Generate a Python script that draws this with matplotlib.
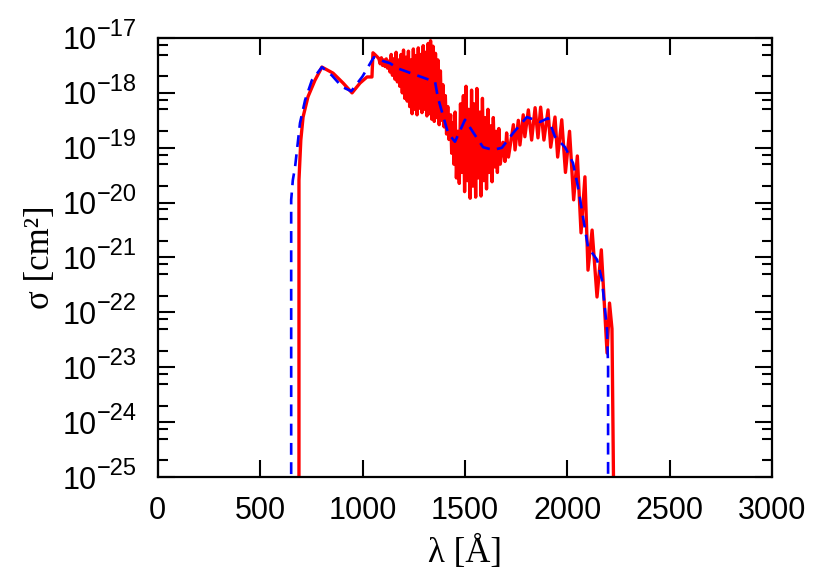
import matplotlib
matplotlib.use('Agg')
import matplotlib.pyplot as plt
import matplotlib.ticker as mticker
import matplotlib.transforms as mtransforms
import numpy as np

# blue dashed curve: wavelength [A] and log10(sigma)
blue_lam = [652, 652, 660, 671, 695, 720, 753, 802, 850, 900, 945, 1000, 1055,
            1100, 1134, 1170, 1250, 1354, 1368, 1417, 1451, 1500, 1545, 1588,
            1637, 1680, 1735, 1802, 1866, 1905, 1939, 1988, 2027, 2051, 2100,
            2144, 2168, 2193, 2198, 2198]
blue_log = [-26.0, -19.95, -19.59, -19.35, -18.55, -18.13, -17.77, -17.53, -17.68,
            -17.89, -17.97, -17.70, -17.35, -17.42, -17.46, -17.55, -17.66, -17.80,
            -18.09, -18.73, -18.89, -18.49, -18.75, -18.99, -19.04, -19.00, -18.73,
            -18.44, -18.53, -18.46, -18.80, -18.99, -19.28, -19.71, -20.81, -21.04,
            -21.41, -22.32, -22.99, -26.0]

# red solid curve
red_lam = [690, 690, 699, 710, 734, 768, 802, 856, 905, 949, 988, 1022, 1046, 1051,
           1060, 1068, 1076, 1080, 1086, 1092, 1098, 1104, 1110, 1116, 1122,
           1128, 1134, 1140, 1146, 1152, 1158, 1164, 1170, 1176, 1182, 1188, 1194,
           1200, 1206, 1212, 1218, 1224, 1230, 1236, 1242, 1248, 1254, 1260, 1266,
           1272, 1278, 1284, 1290, 1296, 1302, 1308, 1314, 1320, 1326, 1332, 1338,
           1344, 1350, 1356, 1362, 1368, 1374, 1380, 1386, 1392, 1398, 1404, 1410,
           1416, 1422,
           1430, 1435, 1440, 1446, 1452, 1458, 1465, 1472, 1478, 1485, 1492, 1498,
           1505, 1512, 1518, 1525, 1532, 1538, 1545, 1552, 1558, 1565, 1572, 1578,
           1585, 1592, 1598, 1605, 1612, 1618, 1625, 1632, 1638, 1645, 1652, 1658,
           1665, 1672, 1685, 1695, 1703, 1712,
           1736, 1744, 1760, 1768, 1784, 1792, 1809, 1825, 1842, 1856, 1869, 1885,
           1905, 1918, 1939, 1952, 1972, 1990, 2010, 2030, 2048, 2066, 2085, 2100,
           2120, 2144, 2165, 2193, 2205, 2217, 2227]
red_log = [-26.0, -19.59, -18.86, -18.44, -18.07, -17.77, -17.53, -17.64, -17.82,
           -18.00, -17.82, -17.71, -17.71, -17.27, -17.30, -17.33, -17.36, -17.38,
           -17.47, -17.36, -17.50, -17.40, -17.52, -17.38, -17.55,
           -17.42, -17.62, -17.30, -17.68, -17.38, -17.75, -17.26, -17.80, -17.40,
           -17.88, -17.30, -18.00, -17.22, -18.10, -17.35, -18.15, -17.24, -18.25,
           -17.40, -18.38, -17.20, -18.30, -17.32, -18.40, -17.18, -18.28, -17.30,
           -18.36, -17.14, -18.30, -17.26, -18.42, -17.10, -18.38, -17.05, -18.48,
           -17.15, -18.52, -17.28, -18.45, -17.40, -18.58, -17.60, -18.50, -17.85,
           -18.62, -18.05, -18.75, -18.25, -18.85,
           -18.40, -19.10, -18.55, -19.30, -18.35, -19.55, -18.70, -19.65, -18.20,
           -19.45, -18.05, -19.80, -17.88, -19.60, -18.30, -19.92, -17.95, -19.70,
           -18.20, -19.90, -17.92, -19.55, -18.35, -19.88, -18.10, -19.60, -18.45,
           -19.75, -18.30, -19.45, -18.60, -19.62, -18.45, -19.35, -18.70, -19.45,
           -18.65, -19.30, -18.90, -19.25, -18.73, -19.17,
           -18.58, -19.04, -18.50, -18.95, -18.40, -18.80, -18.31, -18.86,
           -18.27, -18.82, -18.26, -18.86, -18.31, -18.99, -18.44, -19.17, -18.49,
           -19.45, -18.70, -19.95, -19.15, -20.55, -19.53, -21.23, -20.50, -21.72,
           -20.86, -22.74, -21.83, -22.30, -26.0]

x_ticks = [0, 500, 1000, 1500, 2000, 2500, 3000]
y_exponents = [-25, -24, -23, -22, -21, -20, -19, -18, -17]

plt.rcParams['font.family'] = 'Liberation Sans'

fig = plt.figure(figsize=(8.3, 5.81), dpi=100)
ax = fig.add_axes([0.1898, 0.179, 0.7409, 0.7556])

ax.semilogy(red_lam, 10.0 ** np.array(red_log), color='red', lw=2.4)
ax.semilogy(blue_lam, 10.0 ** np.array(blue_log), color='blue', lw=1.9,
            dashes=(4.5, 2.8))

ax.set_xlim(0, 3000)
ax.set_ylim(1e-25, 1e-17)
ax.set_xticks(x_ticks)
ax.set_yticks([10.0 ** e for e in y_exponents])
ax.set_yticklabels(['10'] * len(y_exponents))
ax.yaxis.set_minor_locator(mticker.LogLocator(base=10, subs=[2, 5, 7.5], numticks=20))
ax.yaxis.set_minor_formatter(mticker.NullFormatter())

ax.tick_params(which='both', direction='in', top=True, right=True,
               labelsize=22, width=1.5)
ax.tick_params(axis='x', pad=14)
ax.tick_params(axis='y', pad=44)
ax.tick_params(which='major', length=12)
ax.tick_params(which='minor', length=7)
for s in ax.spines.values():
    s.set_linewidth(1.6)

# gnuplot-like exponents next to the "10"
trans = mtransforms.blended_transform_factory(ax.transAxes, ax.transData)
trans = trans + mtransforms.ScaledTranslation(0, 1.5 / 72, fig.dpi_scale_trans)
for e in y_exponents:
    ax.text(-0.098, 10.0 ** e, '\u2212%d' % abs(e), transform=trans,
            fontsize=17, ha='left', va='baseline')

ax.set_xlabel('λ [Å]', family='Liberation Serif', fontsize=25, labelpad=7)
ax.set_ylabel('σ [cm²]', family='Liberation Serif', fontsize=25)
ax.yaxis.set_label_coords(-0.163, 0.5)

fig.savefig('out.png', dpi=100)
